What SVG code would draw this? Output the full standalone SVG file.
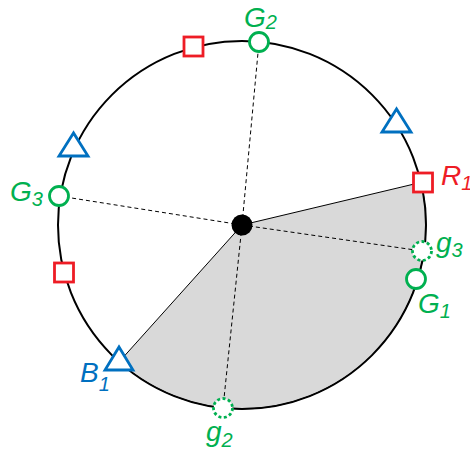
<svg xmlns="http://www.w3.org/2000/svg" width="470" height="455" viewBox="0 0 470 455">
<style>
.lbl{font-family:"Liberation Sans",Arial,sans-serif;font-style:italic;font-size:28px}
.sub{font-size:20px}
.g{fill:#00b050}
.r{fill:#ee1c25}
.b{fill:#0070c0}
.dash{stroke:#000;stroke-width:1;stroke-dasharray:4,3;fill:none}
.sq{fill:#fff;stroke:#ee1c25;stroke-width:2.8}
.tri{fill:#fff;stroke:#0070c0;stroke-width:2.8;stroke-linejoin:miter}
.gc{fill:#fff;stroke:#00b050;stroke-width:2.8}
.gd{fill:#fff;stroke:#00b050;stroke-width:2.8;stroke-dasharray:3,2.5}
</style>
<rect width="470" height="455" fill="#fff"/>
<g id="sector">
<path d="M242,225 L421,182.4 A184,184 0 0 1 119.1,361.9 Z" fill="#d9d9d9" stroke="#000" stroke-width="1"/>
</g>
<g id="circle">
<circle cx="242" cy="225" r="184" fill="none" stroke="#000" stroke-width="2"/>
</g>
<g id="connectors">
<line class="dash" x1="242" y1="225" x2="259" y2="42"/>
<line class="dash" x1="242" y1="225" x2="59" y2="196"/>
<line class="dash" x1="242" y1="225" x2="422" y2="251"/>
<line class="dash" x1="242" y1="225" x2="223" y2="408"/>
</g>
<g id="center">
<circle cx="242" cy="225" r="10.5" fill="#000"/>
</g>
<g id="sq-top"><rect class="sq" x="184" y="37" width="19" height="19"/></g>
<g id="sq-left"><rect class="sq" x="54.5" y="263" width="19" height="19"/></g>
<g id="R1"><rect class="sq" x="413.5" y="173" width="19" height="19"/>
<text class="lbl r" x="441" y="184.5">R<tspan class="sub" dy="5.5">1</tspan></text></g>
<g id="tri-top"><polygon class="tri" points="396.5,109 382,132 411,132"/></g>
<g id="tri-left"><polygon class="tri" points="73.5,133 59,156 88,156"/></g>
<g id="B1"><polygon class="tri" points="119,347 105,370 133,370"/>
<text class="lbl b" x="80" y="381.5">B<tspan class="sub" dy="9">1</tspan></text></g>
<g id="G2"><circle class="gc" cx="259" cy="42" r="9.5"/>
<text class="lbl g" x="244" y="27">G<tspan class="sub" dy="2">2</tspan></text></g>
<g id="G3"><circle class="gc" cx="59" cy="196" r="9.5"/>
<text class="lbl g" x="10" y="201">G<tspan class="sub" dy="4.5">3</tspan></text></g>
<g id="G1"><circle class="gc" cx="416" cy="279" r="9.5"/>
<text class="lbl g" x="418" y="313">G<tspan class="sub" dy="5">1</tspan></text></g>
<g id="g3"><circle class="gd" cx="422" cy="251" r="9.5"/>
<text class="lbl g" x="436" y="251.5">g<tspan class="sub" dy="5">3</tspan></text></g>
<g id="g2"><circle class="gd" cx="223" cy="408" r="9.5"/>
<text class="lbl g" x="206" y="441">g<tspan class="sub" dy="6">2</tspan></text></g>
</svg>
